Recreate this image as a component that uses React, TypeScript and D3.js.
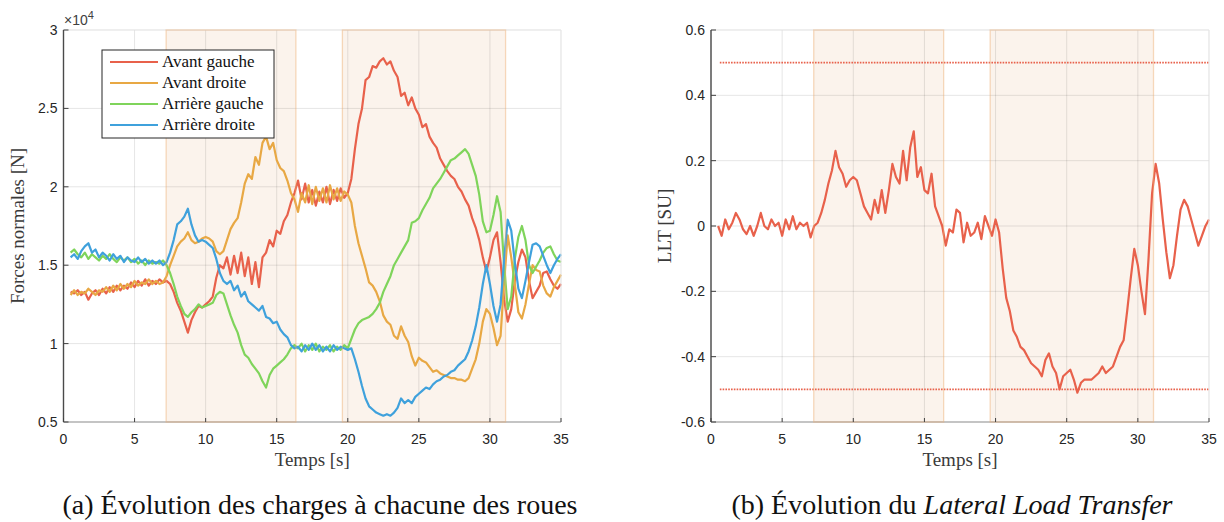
import React from "react";
import * as d3 from "d3";

// ---------- data ----------
const X_TICKS = [0, 5, 10, 15, 20, 25, 30, 35];
const FORCE_TICKS = [0.5, 1, 1.5, 2, 2.5, 3];
const LLT_TICKS = [-0.6, -0.4, -0.2, 0, 0.2, 0.4, 0.6];
const LLT_LIMITS = [0.5, -0.5];
const SHADED = [
  [7.22, 16.35],
  [19.62, 31.1],
];
const T_START = 0.5;
const T_STEP = 0.25;

// forces (x 10^4 N), one row = one second (4 samples)
const AVANT_GAUCHE = [
  1.33, 1.32, 1.34, 1.31, 1.33, 1.28, 1.32, 1.34, 1.31, 1.35, 1.32, 1.36,
  1.33, 1.37, 1.34, 1.37, 1.35, 1.39, 1.36, 1.40, 1.37, 1.41, 1.37, 1.40,
  1.38, 1.41, 1.39, 1.40, 1.38, 1.33, 1.26, 1.21, 1.14, 1.07, 1.15, 1.20,
  1.24, 1.23, 1.25, 1.27, 1.30, 1.42, 1.50, 1.48, 1.55, 1.44, 1.56, 1.45,
  1.58, 1.43, 1.55, 1.38, 1.52, 1.36, 1.55, 1.58, 1.66, 1.62, 1.72, 1.70,
  1.78, 1.82, 1.90, 1.96, 2.04, 1.92, 2.02, 1.90, 1.98, 1.88, 1.97, 1.90,
  2.00, 1.89, 1.98, 1.91, 1.99, 1.93, 1.96, 2.05, 2.24, 2.40, 2.50, 2.68,
  2.70, 2.77, 2.76, 2.80, 2.82, 2.78, 2.80, 2.74, 2.70, 2.58, 2.60, 2.52,
  2.57, 2.50, 2.46, 2.38, 2.40, 2.32, 2.28, 2.25, 2.18, 2.14, 2.10, 2.07,
  2.05, 2.00, 1.97, 1.92, 1.88, 1.80, 1.74, 1.66, 1.55, 1.46, 1.55, 1.66,
  1.71, 1.52, 1.28, 1.14, 1.22, 1.40, 1.52, 1.60, 1.55, 1.40, 1.29, 1.33,
  1.37, 1.45, 1.46, 1.41, 1.37, 1.35, 1.38,
];
const AVANT_DROITE = [
  1.31, 1.34, 1.31, 1.33, 1.32, 1.35, 1.33, 1.31, 1.34, 1.33, 1.36, 1.33,
  1.37, 1.34, 1.38, 1.35, 1.38, 1.36, 1.40, 1.37, 1.39, 1.38, 1.41, 1.38,
  1.40, 1.38, 1.39, 1.43, 1.50, 1.56, 1.62, 1.65, 1.67, 1.71, 1.66, 1.64,
  1.65, 1.67, 1.68, 1.67, 1.65, 1.59, 1.57, 1.59, 1.66, 1.73, 1.77, 1.80,
  1.90, 2.02, 2.08, 2.05, 2.19, 2.14, 2.28, 2.32, 2.24, 2.28, 2.17, 2.12,
  2.10, 2.04, 1.96, 1.92, 1.84, 1.96, 1.90, 2.01, 1.89, 2.00, 1.91, 1.99,
  1.90, 2.01, 1.92, 1.99, 1.91, 1.97, 1.95, 1.90, 1.75, 1.64, 1.56, 1.48,
  1.39, 1.37, 1.33, 1.27, 1.18, 1.14, 1.12, 1.05, 1.03, 1.11, 1.05, 1.01,
  0.92, 0.86, 0.91, 0.89, 0.88, 0.85, 0.82, 0.83, 0.81, 0.80, 0.79, 0.78,
  0.78, 0.77, 0.77, 0.76, 0.78, 0.84, 0.90, 1.00, 1.14, 1.22, 1.19, 1.10,
  0.99, 1.05, 1.40, 1.69, 1.55, 1.38, 1.20, 1.16, 1.25, 1.38, 1.50, 1.47,
  1.46, 1.37, 1.32, 1.30, 1.36, 1.40, 1.44,
];
const ARRIERE_GAUCHE = [
  1.58, 1.60, 1.57, 1.55, 1.58, 1.54, 1.57, 1.55, 1.53, 1.56, 1.54, 1.57,
  1.54, 1.52, 1.55, 1.53, 1.55, 1.52, 1.54, 1.51, 1.53, 1.50, 1.53, 1.51,
  1.52, 1.51, 1.53, 1.50, 1.45, 1.38, 1.30, 1.24, 1.19, 1.17, 1.20, 1.22,
  1.25, 1.23, 1.24, 1.25, 1.26, 1.31, 1.33, 1.32, 1.25, 1.18, 1.12, 1.07,
  0.99, 0.93, 0.91, 0.87, 0.84, 0.81, 0.76, 0.72, 0.80, 0.84, 0.86, 0.88,
  0.90, 0.93, 0.97, 0.99, 0.97, 1.00, 0.95, 0.99, 0.96, 1.00, 0.95, 0.98,
  0.96, 0.99, 0.95, 0.98, 0.96, 0.99, 0.97, 1.03, 1.09, 1.13, 1.15, 1.16,
  1.17, 1.19, 1.22, 1.26, 1.33, 1.38, 1.43, 1.50, 1.54, 1.58, 1.62, 1.66,
  1.77, 1.78, 1.80, 1.85, 1.89, 1.93, 1.99, 2.02, 2.05, 2.09, 2.13, 2.17,
  2.18, 2.20, 2.22, 2.24, 2.21, 2.14, 2.07, 1.95, 1.78, 1.71, 1.72, 1.82,
  1.94, 1.84, 1.50, 1.22, 1.30, 1.54, 1.68, 1.75, 1.66, 1.50, 1.45, 1.49,
  1.53, 1.58, 1.61, 1.62, 1.57, 1.53, 1.52,
];
const ARRIERE_DROITE = [
  1.55, 1.57, 1.54, 1.59, 1.62, 1.64, 1.58, 1.60, 1.55, 1.58, 1.56, 1.53,
  1.57, 1.54, 1.56, 1.52, 1.55, 1.53, 1.52, 1.55, 1.52, 1.54, 1.51, 1.53,
  1.51, 1.53, 1.50, 1.52, 1.58, 1.66, 1.76, 1.78, 1.81, 1.86, 1.76, 1.69,
  1.65, 1.66, 1.65, 1.63, 1.61, 1.54, 1.45, 1.40, 1.38, 1.40, 1.34, 1.37,
  1.30, 1.33, 1.27, 1.25, 1.23, 1.21, 1.24, 1.17, 1.16, 1.13, 1.14, 1.09,
  1.06, 1.04, 0.99, 0.97, 0.98, 0.95, 0.99, 0.96, 1.00, 0.96, 0.99, 0.95,
  0.98, 0.95, 0.99, 0.96, 0.98, 0.97, 0.96, 0.97, 0.90, 0.82, 0.73, 0.65,
  0.60, 0.58, 0.56, 0.55, 0.54, 0.55, 0.54, 0.56, 0.59, 0.65, 0.62, 0.64,
  0.62, 0.66, 0.68, 0.70, 0.72, 0.71, 0.74, 0.76, 0.77, 0.79, 0.80, 0.82,
  0.83, 0.86, 0.88, 0.90, 0.95, 1.02, 1.11, 1.23, 1.38, 1.50, 1.38, 1.24,
  1.14, 1.25, 1.54, 1.79, 1.72, 1.52, 1.35, 1.29, 1.40, 1.52, 1.63, 1.64,
  1.62, 1.56, 1.50, 1.45, 1.50, 1.54, 1.57,
];
const LLT = [
  0.0, -0.03, 0.02, -0.01, 0.01, 0.04, 0.02, -0.01, -0.025, 0.0, -0.03, 0.0,
  0.04, 0.0, -0.01, 0.02, 0.0, 0.01, -0.03, 0.02, -0.01, 0.03, -0.01, 0.01,
  0.0, 0.01, -0.035, 0.0, 0.01, 0.04, 0.08, 0.13, 0.17, 0.23, 0.18, 0.16,
  0.12, 0.14, 0.15, 0.14, 0.10, 0.06, 0.04, 0.02, 0.08, 0.04, 0.11, 0.04,
  0.11, 0.19, 0.15, 0.13, 0.23, 0.14, 0.24, 0.29, 0.15, 0.18, 0.11, 0.10,
  0.16, 0.06, 0.03, 0.0, -0.06, -0.01, -0.02, 0.05, 0.04, -0.05, 0.01, -0.03,
  -0.02, 0.01, -0.04, 0.03, 0.0, -0.03, 0.02, -0.02, -0.13, -0.22, -0.26, -0.32,
  -0.34, -0.37, -0.38, -0.40, -0.42, -0.43, -0.44, -0.46, -0.41, -0.39, -0.43, -0.45,
  -0.50, -0.46, -0.45, -0.44, -0.47, -0.51, -0.48, -0.47, -0.47, -0.47, -0.46, -0.45,
  -0.43, -0.45, -0.44, -0.43, -0.40, -0.37, -0.35, -0.26, -0.16, -0.07, -0.12, -0.20,
  -0.27, -0.10, 0.10, 0.19, 0.13, 0.02, -0.08, -0.16, -0.12, -0.03, 0.05, 0.08,
  0.06, 0.02, -0.02, -0.06, -0.03, 0.0, 0.02,
];

const SERIES = [
  { name: "Avant gauche", values: AVANT_GAUCHE, color: "#e8614b" },
  { name: "Avant droite", values: AVANT_DROITE, color: "#e8a844" },
  { name: "Arrière gauche", values: ARRIERE_GAUCHE, color: "#7fd45b" },
  { name: "Arrière droite", values: ARRIERE_DROITE, color: "#3fa1dc" },
];

// ---------- style ----------
const SANS = "'Liberation Sans', Arial, Helvetica, sans-serif";
const SERIF = "'Liberation Serif', 'Times New Roman', serif";
const TXT = "#262626";
const TOP = 30;
const BOTTOM = 422;

function Panel({
  left,
  right,
  yDomain,
  yTicks,
  fmt,
  children,
  yLabel,
  yLabelX,
}: any) {
  const x = d3.scaleLinear().domain([0, 35]).range([left, right]);
  const y = d3.scaleLinear().domain(yDomain).range([BOTTOM, TOP]);
  return (
    <g>
      {SHADED.map(([a, b], i) => (
        <rect key={"s" + i} x={x(a)} y={TOP} width={x(b) - x(a)} height={BOTTOM - TOP} fill="#fbf3ec" />
      ))}
      {X_TICKS.map((t) => (
        <line key={"gx" + t} x1={x(t)} x2={x(t)} y1={TOP} y2={BOTTOM} stroke="rgba(0,0,0,0.1)" strokeWidth={1} />
      ))}
      {yTicks.map((t: number) => (
        <line key={"gy" + t} x1={left} x2={right} y1={y(t)} y2={y(t)} stroke="rgba(0,0,0,0.1)" strokeWidth={1} />
      ))}
      {children(x, y)}
      {/* box */}
      <line x1={left} x2={right} y1={TOP} y2={TOP} stroke="#ebebeb" />
      <line x1={right} x2={right} y1={TOP} y2={BOTTOM} stroke="#ebebeb" />
      <line x1={left} x2={right} y1={BOTTOM} y2={BOTTOM} stroke="#b4b4b4" strokeWidth={1.6} />
      <line x1={left} x2={left} y1={TOP} y2={BOTTOM} stroke="#4a4a4a" strokeWidth={1.4} />
      {SHADED.map(([a, b], i) => (
        <rect key={"e" + i} x={x(a)} y={TOP} width={x(b) - x(a)} height={BOTTOM - TOP} fill="none" stroke="rgba(238,172,112,0.45)" strokeWidth={1.3} />
      ))}
      {X_TICKS.map((t) => (
        <g key={"tx" + t}>
          <line x1={x(t)} x2={x(t)} y1={BOTTOM} y2={BOTTOM - 4} stroke="#404040" strokeWidth={1} />
          <text x={x(t)} y={444} textAnchor="middle" fontFamily={SANS} fontSize={14} fill={TXT}>
            {t}
          </text>
        </g>
      ))}
      {yTicks.map((t: number) => (
        <g key={"ty" + t}>
          <line x1={left} x2={left + 5} y1={y(t)} y2={y(t)} stroke="#404040" strokeWidth={1} />
          <text x={left - 6} y={y(t) + 5} textAnchor="end" fontFamily={SANS} fontSize={14} fill={TXT}>
            {fmt(t)}
          </text>
        </g>
      ))}
      <text x={(left + right) / 2} y={466} textAnchor="middle" fontFamily={SERIF} fontSize={19} fill="#3a3a3a">
        Temps [s]
      </text>
      <text
        transform={`translate(${yLabelX},226) rotate(-90)`}
        textAnchor="middle"
        fontFamily={SERIF}
        fontSize={19}
        fill="#3a3a3a"
      >
        {yLabel}
      </text>
    </g>
  );
}

export default function App() {
  const line = (x: any, y: any) =>
    d3
      .line<number>()
      .x((_, i) => x(T_START + i * T_STEP))
      .y((v) => y(v));

  return (
    <svg width={1224} height={522} style={{ display: "block", position: "absolute", left: 0, top: 0 }}>
      <rect width={1224} height={522} fill="#fff" />
      <Panel
        left={63.5}
        right={561}
        yDomain={[0.5, 3]}
        yTicks={FORCE_TICKS}
        fmt={(v: number) => String(v)}
        yLabel="Forces normales [N]"
        yLabelX={24}
      >
        {(x: any, y: any) => (
          <g>
            {SERIES.map((s) => (
              <path key={s.name} d={line(x, y)(s.values) || ""} fill="none" stroke={s.color} strokeWidth={2.2} strokeLinejoin="round" />
            ))}
          </g>
        )}
      </Panel>
      <text x={64} y={25} fontFamily={SANS} fontSize={14} fill="#404040">
        ×10
        <tspan fontSize={11} dy={-6}>
          4
        </tspan>
      </text>
      {/* legend */}
      <g>
        <rect x={102} y={50} width={172} height={88} fill="#fff" stroke="#262626" strokeWidth={1} />
        {SERIES.map((s, i) => (
          <g key={s.name}>
            <line x1={110} x2={158} y1={62 + i * 21} y2={62 + i * 21} stroke={s.color} strokeWidth={2.2} />
            <text x={162} y={62 + i * 21 + 5} fontFamily={SERIF} fontSize={17} fill="#111">
              {s.name}
            </text>
          </g>
        ))}
      </g>

      <Panel
        left={711}
        right={1209}
        yDomain={[-0.6, 0.6]}
        yTicks={LLT_TICKS}
        fmt={(v: number) => (Math.abs(v) < 1e-9 ? "0" : String(v))}
        yLabel="LLT [SU]"
        yLabelX={671}
      >
        {(x: any, y: any) => (
          <g>
            {LLT_LIMITS.map((l) => (
              <line key={l} x1={x(0.62)} x2={x(35)} y1={y(l)} y2={y(l)} stroke="#e8614b" strokeWidth={1.8} strokeDasharray="1.6 1.2" />
            ))}
            <path d={line(x, y)(LLT) || ""} fill="none" stroke="#e8614b" strokeWidth={2.2} strokeLinejoin="round" />
          </g>
        )}
      </Panel>

      <text x={320} y={514} textAnchor="middle" fontFamily={SERIF} fontSize={28} fill="#111">
        (a) Évolution des charges à chacune des roues
      </text>
      <text x={952} y={514} textAnchor="middle" fontFamily={SERIF} fontSize={28} fill="#111">
        (b) Évolution du <tspan fontStyle="italic">Lateral Load Transfer</tspan>
      </text>
    </svg>
  );
}
